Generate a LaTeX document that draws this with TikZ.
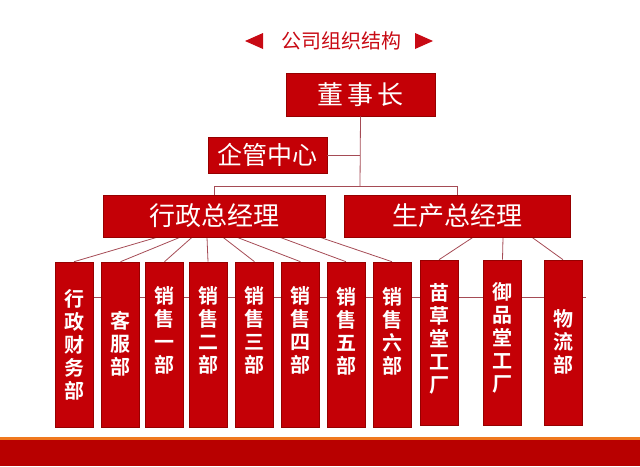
\documentclass[tikz,border=0pt]{standalone}
\usepackage{fontspec}
\newfontfamily\cjk{Noto Sans CJK SC}
\newfontfamily\cjkb{Noto Sans CJK SC Bold}
\usetikzlibrary{backgrounds}
\definecolor{boxred}{RGB}{196,0,6}
\definecolor{boxedge}{RGB}{150,0,0}
\definecolor{linec}{RGB}{165,75,85}
\definecolor{bandred}{RGB}{184,0,0}
\definecolor{bandorange}{RGB}{240,120,30}
\definecolor{titlered}{RGB}{200,10,20}
\tikzset{
  topbox/.style={draw=boxedge, line width=0.6pt, fill=boxred, text=white, inner sep=0pt, font=\cjk\fontsize{26}{26}\selectfont},
  deptbox/.style={draw=boxedge, line width=0.6pt, fill=boxred, inner sep=0pt, minimum width=38pt},
  depttext/.style={text=white, align=center, inner sep=0pt, font=\cjkb\fontsize{20}{23}\selectfont},
  conn/.style={draw=linec, line width=0.8pt},
}
\begin{document}
\begin{tikzpicture}[x=1pt,y=-1pt]
\useasboundingbox (0,0) rectangle (640,466);
% bottom band
\fill[bandorange] (0,436.5) rectangle (640,440.5);
\fill[bandred] (0,440) rectangle (640,466);
% title
\node[titlered, font=\cjk\fontsize{20}{20}\selectfont, inner sep=0pt] (title) at (341,41) {公司组织结构};
\fill[titlered] (245,41) -- (263,33) -- (263,49) -- cycle;
\fill[titlered] (433,41) -- (415,33) -- (415,49) -- cycle;
% top boxes
\node[topbox, minimum width=149pt, minimum height=43pt] (dsz) at (360.5,94.5) {董\,事\,长};
\node[topbox, minimum width=119pt, minimum height=36pt, font=\cjk\fontsize{25}{25}\selectfont] (qg) at (267.5,155) {企管中心};
\node[topbox, minimum width=222pt, minimum height=42pt] (xz) at (214,216) {行政总经理};
\node[topbox, minimum width=226pt, minimum height=42pt] (sc) at (457,216) {生产总经理};
\coordinate (j) at (360,186);
\coordinate (jl) at (xz.north |- j);
\coordinate (jr) at (sc.north |- j);
\draw[conn] (dsz.south) -- (j);
\draw[conn] (qg.east) -- (qg.east -| j);
\draw[conn] (xz.north) -- (jl) -- (jr) -- (sc.north);
% department boxes
\node[deptbox, minimum height=165pt] (b1) at (74,344.5) {};
\node[deptbox, minimum height=165pt] (b2) at (120.5,344.5) {};
\node[deptbox, minimum height=165pt] (b3) at (164.5,344.5) {};
\node[deptbox, minimum height=165pt] (b4) at (208,344.5) {};
\node[deptbox, minimum height=165pt] (b5) at (254.5,344.5) {};
\node[deptbox, minimum height=165pt] (b6) at (300.5,344.5) {};
\node[deptbox, minimum height=165pt] (b7) at (346,344.5) {};
\node[deptbox, minimum height=165pt] (b8) at (392,344.5) {};
\node[deptbox, minimum height=165pt] (b9) at (439,342.5) {};
\node[deptbox, minimum height=165pt] (b10) at (502.5,342.5) {};
\node[deptbox, minimum height=165pt] (b11) at (563,342.5) {};
\node[depttext] (t1) at (74,345) {行\\政\\财\\务\\部};
\node[depttext] (t2) at (120.5,344) {客\\服\\部};
\node[depttext] (t3) at (164.5,330) {销\\售\\一\\部};
\node[depttext] (t4) at (208,330) {销\\售\\二\\部};
\node[depttext] (t5) at (254.5,330) {销\\售\\三\\部};
\node[depttext] (t6) at (300.5,330) {销\\售\\四\\部};
\node[depttext] (t7) at (346,331) {销\\售\\五\\部};
\node[depttext] (t8) at (392,331) {销\\售\\六\\部};
\node[depttext] (t9) at (439,339) {苗\\草\\堂\\工\\厂};
\node[depttext] (t10) at (502.5,338) {御\\品\\堂\\工\\厂};
\node[depttext] (t11) at (563,342) {物\\流\\部};
\begin{scope}[on background layer]
\coordinate (hr) at (586,297);
\draw[conn] (b1.east |- hr) -- (hr);
\draw[conn] ([xshift=-57pt]xz.south) -- (b1.north);
\draw[conn] ([xshift=-34pt]xz.south) -- (b2.north);
\draw[conn] ([xshift=-22pt]xz.south) -- (b3.north);
\draw[conn] ([xshift=-7pt]xz.south) -- (b4.north);
\draw[conn] ([xshift=9pt]xz.south) -- (b5.north);
\draw[conn] ([xshift=23pt]xz.south) -- (b6.north);
\draw[conn] ([xshift=66pt]xz.south) -- (b7.north);
\draw[conn] ([xshift=106pt]xz.south) -- (b8.north);
\draw[conn] ([xshift=16pt]sc.south) -- (b9.north);
\draw[conn] ([xshift=46pt]sc.south) -- (b10.north);
\draw[conn] ([xshift=75pt]sc.south) -- (b11.north);
\end{scope}
\end{tikzpicture}
\end{document}
